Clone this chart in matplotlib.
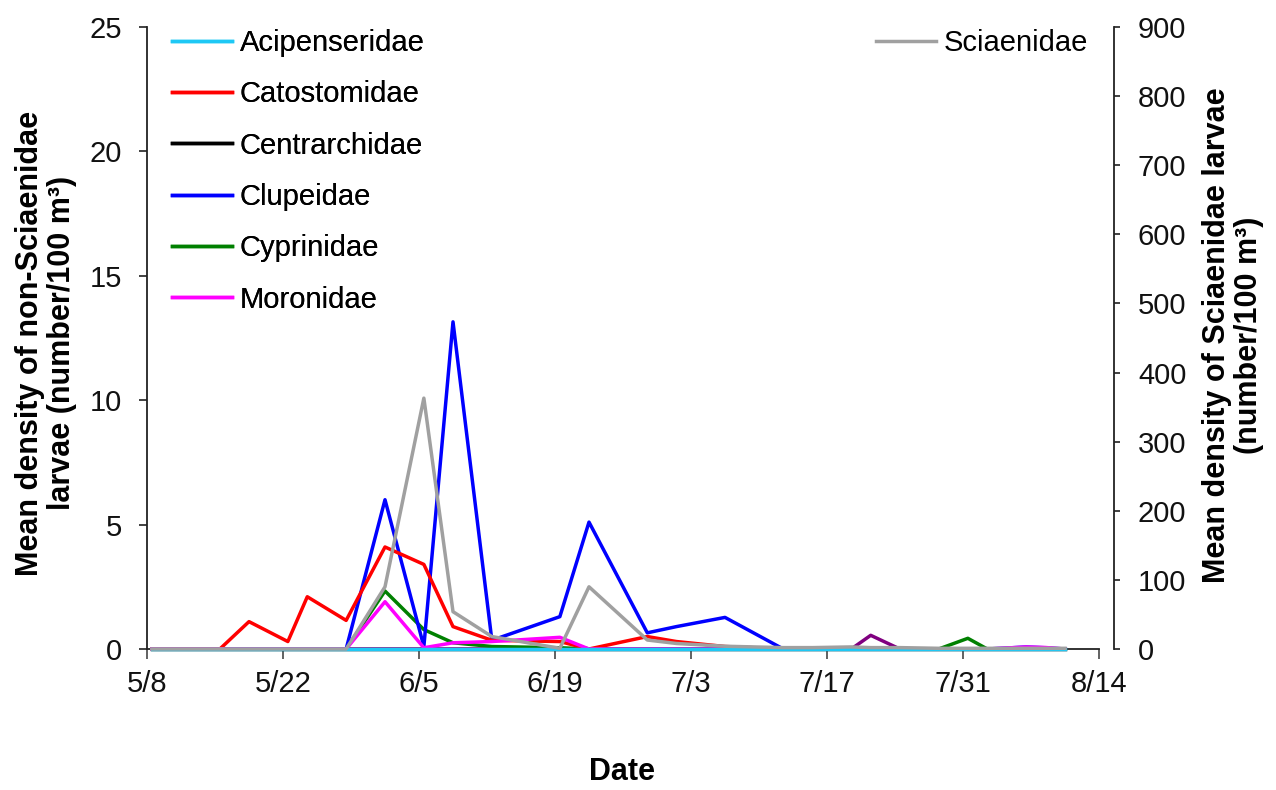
import matplotlib
matplotlib.use("Agg")
import matplotlib.pyplot as plt
import pandas as pd

plt.rcParams['font.family'] = ['Liberation Sans', 'DejaVu Sans']

# ---------------- data ----------------
sample_dates = ["5/8", "5/11", "5/15", "5/18", "5/22", "5/24", "5/28", "6/1", "6/5", "6/8",
                "6/12", "6/19", "6/22", "6/28", "7/1", "7/6", "7/12", "7/15", "7/19", "7/21",
                "7/24", "7/28", "7/31", "8/2", "8/6", "8/8", "8/10"]

acipenseridae = [0] * 27
catostomidae = [0, 0, 0, 1.1, 0.3, 2.1, 1.15, 4.1, 3.4, 0.9,
                0.35, 0.3, 0.0, 0.5, 0.3, 0.1, 0, 0, 0, 0,
                0, 0, 0, 0, 0, 0, 0]
centrarchidae = [0] * 27
clupeidae = [0, 0, 0, 0, 0, 0, 0, 6.0, 0.1, 13.15,
             0.35, 1.3, 5.1, 0.65, 0.9, 1.27, 0, 0, 0, 0,
             0, 0, 0, 0, 0.08, 0.05, 0]
cyprinidae = [0, 0, 0, 0, 0, 0, 0, 2.33, 0.78, 0.25,
              0.1, 0.05, 0, 0, 0, 0, 0, 0, 0, 0,
              0, 0, 0.43, 0, 0, 0, 0]
moronidae = [0, 0, 0, 0, 0, 0, 0, 1.9, 0.05, 0.25,
             0.3, 0.47, 0, 0, 0, 0, 0, 0, 0, 0,
             0, 0, 0, 0, 0.08, 0.06, 0]
unlabeled_purple = [0, 0, 0, 0, 0, 0, 0, 0, 0, 0,
                    0, 0, 0, 0, 0, 0, 0, 0, 0, 0.55,
                    0, 0, 0, 0, 0, 0, 0]
sciaenidae = [0, 0, 0, 0, 0, 0, 0, 90, 363, 54,
              18, 1, 90, 13, 8, 4, 2, 2, 3, 2,
              2, 1, 1, 1, 1, 1, 1]

x_tick_labels = ["5/8", "5/22", "6/5", "6/19", "7/3", "7/17", "7/31", "8/14"]
left_ticks = [0, 5, 10, 15, 20, 25]
right_ticks = [0, 100, 200, 300, 400, 500, 600, 700, 800, 900]

# ---------------- figure ----------------
year = "2009"
def to_dt(s):
    m, d = s.split("/")
    return pd.Timestamp(f"{year}-{int(m):02d}-{int(d):02d}")

x = [to_dt(s) + pd.Timedelta(hours=12) for s in sample_dates]
xticks = [to_dt(s) for s in x_tick_labels]

W, H = 1276, 790
fig = plt.figure(figsize=(W / 100, H / 100), dpi=100)
L, R, B, T = 147, 1099, 649, 27
ax = fig.add_axes([L / W, 1 - B / H, (R - L) / W, (B - T) / H])
ax2 = ax.twinx()

lw = 2.5
series = [
    ("Acipenseridae", acipenseridae, "#1EC8F5", 3.6),
    ("Catostomidae", catostomidae, "#FF0000", 3.2),
    ("Centrarchidae", centrarchidae, "#000000", 2.0),
    ("Clupeidae", clupeidae, "#0000FF", 3.1),
    ("Cyprinidae", cyprinidae, "#008000", 3.0),
    ("Moronidae", moronidae, "#FF00FF", 3.3),
]
handles = []
for name, vals, col, z in series:
    h, = ax.plot(x, vals, color=col, lw=lw, label=name, clip_on=False, zorder=z)
    handles.append(h)
ax.plot(x, unlabeled_purple, color="#800080", lw=lw, clip_on=False, zorder=2.9)
hs, = ax2.plot(x, sciaenidae, color="#A0A0A0", lw=lw, label="Sciaenidae", clip_on=False)

ax.set_xlim(to_dt("5/8"), to_dt("8/14"))
ax.set_ylim(0, 25)
ax2.set_ylim(0, 900)
ax.set_xticks(xticks)
ax.set_xticklabels(x_tick_labels)
ax.set_yticks(left_ticks)
ax2.set_yticks(right_ticks)

for a in (ax, ax2):
    a.spines['top'].set_visible(False)
    a.patch.set_visible(False)
ax.spines['right'].set_visible(False)
ax2.spines['left'].set_visible(False)
ax2.spines['bottom'].set_visible(False)
ax2.spines['right'].set_position(('outward', 11))
for sp in ('left', 'bottom'):
    ax.spines[sp].set_linewidth(1.3)
    ax.spines[sp].set_color('#222222')
ax2.spines['right'].set_linewidth(1.3)
ax2.spines['right'].set_color('#222222')

ax.tick_params(axis='x', direction='out', length=7, width=1.3, color='#555555',
               pad=8, labelsize=21, labelcolor='#111111')
ax.tick_params(axis='y', direction='out', length=6, width=1.3, color='#333333',
               pad=12, labelsize=21, labelcolor='#111111')
ax2.tick_params(axis='y', direction='out', length=4, width=1.3, color='#333333',
                pad=13, labelsize=21, labelcolor='#111111')

lab_font = dict(family=['Liberation Sans Narrow', 'Liberation Sans', 'DejaVu Sans'],
                weight='bold', size=22)
fig.text(46 / W, 1 - 343 / H, "Mean density of non-Sciaenidae\nlarvae (number/100 m³)",
         rotation=90, ha='center', va='center', linespacing=1.1, **lab_font)
fig.text(1233 / W, 1 - 335 / H, "Mean density of Sciaenidae larvae\n(number/100 m³)",
         rotation=90, ha='center', va='center', linespacing=1.1, **lab_font)
fig.text(622 / W, 1 - 772 / H, "Date", ha='center', va='center', **lab_font)

leg_kw = dict(frameon=False, fontsize=21, handlelength=2.05, handletextpad=0.27,
              borderpad=0, borderaxespad=0, bbox_transform=fig.transFigure)
leg1 = ax.legend(handles=handles, loc='upper left', bbox_to_anchor=(172 / W, 1 - 29 / H),
                 labelspacing=0.80, **leg_kw)
ax.add_artist(leg1)
leg2 = ax2.legend(handles=[hs], loc='upper right', bbox_to_anchor=(1088 / W, 1 - 29 / H),
                  **leg_kw)

fig.savefig("out.png", dpi=100)
